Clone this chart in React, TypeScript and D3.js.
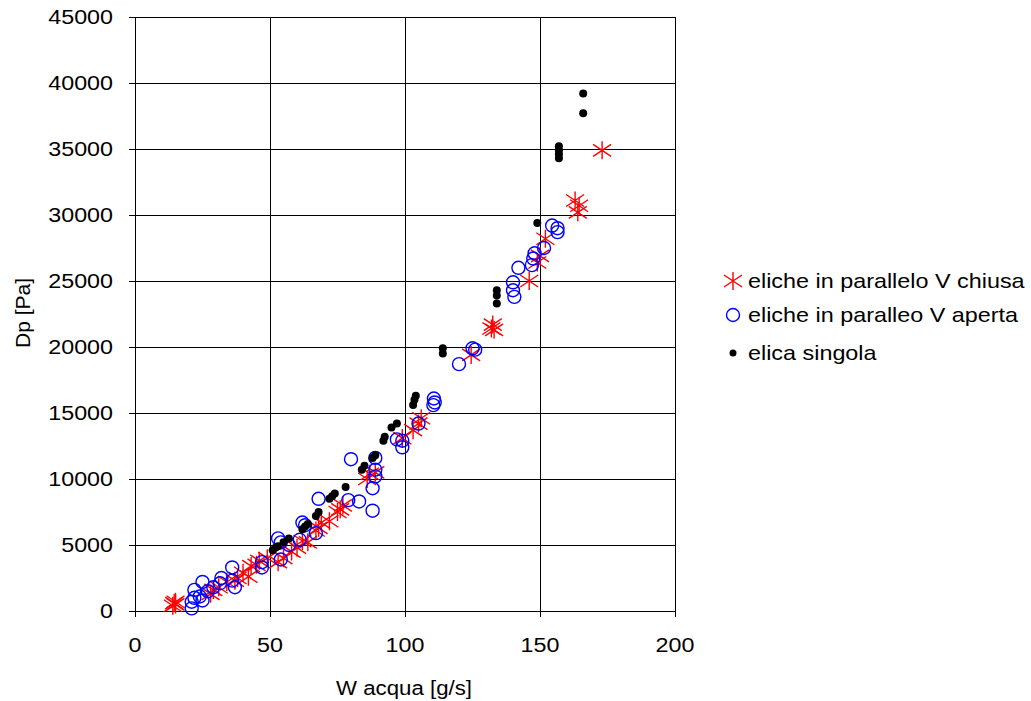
import React from "react";
import * as d3 from "d3";

const xTicks = [0, 50, 100, 150, 200];
const yTicks = [0, 5000, 10000, 15000, 20000, 25000, 30000, 35000, 40000, 45000];

const seriesNames = ["eliche in parallelo V chiusa", "eliche in paralleo V aperta", "elica singola"];

const chiusa: [number, number][] = [
  [14, 400], [14.5, 600], [15, 500], [15, 700], [28, 1300], [29, 1600], [31, 1800], [34, 2200],
  [37, 2300], [38, 2500], [40, 2900], [42, 2600], [43, 3400], [45, 3500], [46, 3800], [49, 4000],
  [53, 3700], [55, 4000], [58, 4500], [60, 4800], [62, 5300], [64, 5200], [67, 6100], [68, 6300],
  [69, 6700], [72, 6800], [75, 7500], [76, 7700], [77, 8000], [86, 10000], [87, 10400], [89, 10500],
  [99, 13100], [103, 13700], [105, 14200], [106, 14600], [124.5, 19400], [132, 21400], [132.5, 21700],
  [133, 21300], [146, 25000], [149, 26400], [150, 26900], [152, 28200], [163, 31100], [164.5, 30700],
  [164, 30200], [173, 34900],
];

const aperta: [number, number][] = [
  [21, 200], [21, 700], [22, 1000], [22, 1600], [24, 1100], [25, 800], [25, 2200], [27, 1500],
  [29, 1800], [31.5, 2100], [32, 2500], [36, 3300], [36, 2300], [37, 1800], [47, 3700], [47, 3300],
  [53, 5500], [54, 5200], [54, 3900], [57, 5000], [61, 5400], [62, 6700], [63, 6500], [67, 5900],
  [68, 8500], [79, 8400], [80, 11500], [83, 8300], [88, 7600], [88, 9300], [89, 10200], [89, 10700],
  [89, 11600], [97, 13000], [99, 12400], [99, 12900], [105, 14200], [110.5, 15600], [110.7, 16100],
  [111, 15800], [120, 18700], [125, 19900], [126, 19800], [140, 24300], [140.5, 23800], [140, 24900],
  [142, 26000], [147, 26200], [147.5, 26700], [148, 27100], [151.5, 27500], [154.5, 29200],
  [156.5, 29000], [156.5, 28700],
];

const singola: [number, number][] = [
  [51, 4600], [52, 4800], [53, 4900], [55, 5200], [57, 5500], [62, 6200], [63, 6400], [64, 6600],
  [67, 7200], [68, 7500], [72, 8500], [73, 8700], [74, 8900], [78, 9400], [84, 10700], [85, 11000],
  [88, 11600], [89, 11800], [92, 12900], [92.5, 13200], [95, 13900], [97, 14200], [103, 15600],
  [103.5, 16000], [104, 16300], [114, 19500], [114, 19900], [134, 23300], [134, 23900], [134, 24300],
  [149, 29400], [157, 34300], [157, 34600], [157, 34900], [157, 35200], [166, 37700], [166, 39200],
];

const FONT = "'Liberation Sans', Arial, sans-serif";

function Star({ cx, cy }: { cx: number; cy: number }) {
  const d = `M${cx},${cy - 9}L${cx},${cy + 9}M${cx - 9},${cy - 6}L${cx + 9},${cy + 6}M${cx - 9},${cy + 6}L${cx + 9},${cy - 6}`;
  return <path d={d} stroke="#FF0000" strokeWidth={1.4} fill="none" />;
}

function T({ x, y, anchor, size, sx, children }: { x: number; y: number; anchor?: string; size: number; sx: number; children: any }) {
  return (
    <text transform={`translate(${x},${y}) scale(${sx},1)`} dy="0.35em" textAnchor={anchor || "start"} fontSize={size} fill="#000">
      {children}
    </text>
  );
}

export default function App() {
  const W = 1031, H = 701;
  const x = d3.scaleLinear().domain([0, 200]).range([135, 675]);
  const y = d3.scaleLinear().domain([0, 45000]).range([611, 17]);

  return (
    <svg width={W} height={H} style={{ position: "absolute", left: 0, top: 0, background: "#fff" }} fontFamily={FONT}>
      <rect width={W} height={H} fill="#fff" />
      {yTicks.map((t) => (
        <g key={"y" + t}>
          <line x1={x(0)} x2={x(200)} y1={y(t)} y2={y(t)} stroke="#000" strokeWidth={1} shapeRendering="crispEdges" />
          <line x1={x(0) - 6} x2={x(0)} y1={y(t)} y2={y(t)} stroke="#000" strokeWidth={1} shapeRendering="crispEdges" />
          <T x={113} y={y(t)} anchor="end" size={21} sx={1.11}>{t}</T>
        </g>
      ))}
      {xTicks.map((t) => (
        <g key={"x" + t}>
          <line x1={x(t)} x2={x(t)} y1={y(0)} y2={y(45000)} stroke="#000" strokeWidth={1} shapeRendering="crispEdges" />
          <line x1={x(t)} x2={x(t)} y1={y(0)} y2={y(0) + 6} stroke="#000" strokeWidth={1} shapeRendering="crispEdges" />
          <T x={x(t)} y={645} anchor="middle" size={21} sx={1.11}>{t}</T>
        </g>
      ))}
      <T x={404} y={688} anchor="middle" size={21} sx={1.06}>W acqua [g/s]</T>
      <text transform={`translate(23,${313}) rotate(-90)`} dy="0.35em" textAnchor="middle" fontSize={21} fill="#000">Dp [Pa]</text>

      {chiusa.map((p, i) => <Star key={"c" + i} cx={x(p[0])} cy={y(p[1])} />)}
      {aperta.map((p, i) => (
        <circle key={"a" + i} cx={x(p[0])} cy={y(p[1])} r={6.5} fill="none" stroke="#0000FF" strokeWidth={1.4} />
      ))}
      {singola.map((p, i) => (
        <circle key={"s" + i} cx={x(p[0])} cy={y(p[1])} r={4} fill="#000" />
      ))}

      <g>
        <Star cx={733} cy={281} />
        <T x={748} y={281} size={20.5} sx={1.14}>{seriesNames[0]}</T>
        <circle cx={733} cy={315} r={6.5} fill="none" stroke="#0000FF" strokeWidth={1.4} />
        <T x={748} y={315} size={20.5} sx={1.14}>{seriesNames[1]}</T>
        <circle cx={733} cy={353} r={3.5} fill="#000" />
        <T x={748} y={353} size={20.5} sx={1.14}>{seriesNames[2]}</T>
      </g>
    </svg>
  );
}
